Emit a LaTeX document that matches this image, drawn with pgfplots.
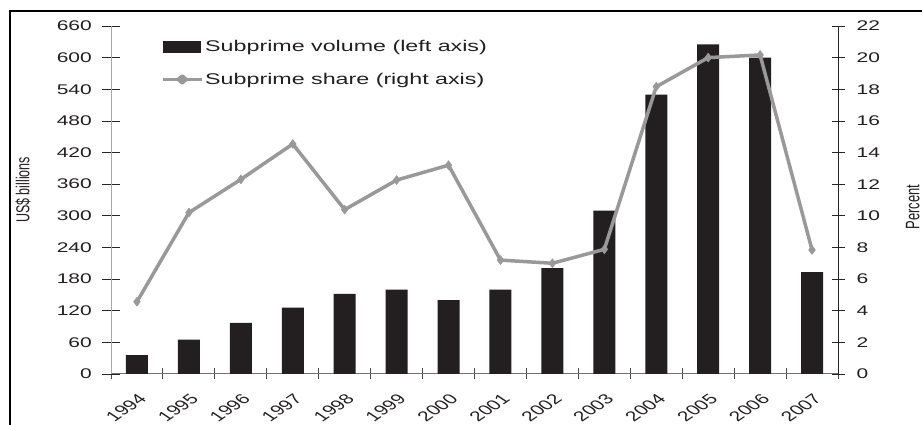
\documentclass[border=0pt]{standalone}
\usepackage{fontspec}
\setmainfont{Liberation Sans}
\usepackage{graphicx}
\usepackage{pgfplots}
\pgfplotsset{compat=1.18}
\definecolor{barcol}{HTML}{231F20}
\definecolor{linecol}{HTML}{999999}
\definecolor{txt}{HTML}{231F20}
% the source picture is stretched sideways, so is the text
\newcommand\w[1]{\scalebox{1.5}[1]{#1}}
\newcommand\tl[1]{\scalebox{1.5}[1]{\fontsize{14}{14}\selectfont #1}}
\newcommand\xl[1]{\scalebox{1.5}[1]{\rotatebox{45}{\fontsize{14}{14}\selectfont #1}}}

\pgfplotsset{
  common/.style={
    scale only axis, width=727pt, height=348pt,
    at={(111pt,51pt)}, anchor=south west,
    xmin=-0.5, xmax=13.5,
    tick label style={text=txt},
    tick align=center,
    clip=false,
  }
}

\begin{document}
\begin{tikzpicture}
\useasboundingbox (0,0) rectangle (922pt,425pt);
\draw[line width=2pt, black] (10pt,0pt) -- (10pt,414pt) -- (922pt,414pt);

\begin{axis}[common,
  ymin=0, ymax=660,
  axis y line*=left, axis x line*=bottom,
  ytick={0,60,...,660},
  yticklabels={\tl{0},\tl{60},\tl{120},\tl{180},\tl{240},\tl{300},\tl{360},\tl{420},
    \tl{480},\tl{540},\tl{600},\tl{660}},
  yticklabel style={anchor=east, inner sep=0pt, xshift=-10pt},
  major tick length=18pt,
  minor tick length=11pt,
  xtick={0,...,13},
  xticklabels={\xl{1994},\xl{1995},\xl{1996},\xl{1997},\xl{1998},\xl{1999},\xl{2000},
    \xl{2001},\xl{2002},\xl{2003},\xl{2004},\xl{2005},\xl{2006},\xl{2007}},
  major x tick style={draw=none},
  minor xtick={-0.5,0.5,...,13.5},
  minor x tick style={draw=black!70, line width=1pt},
  ytick style={draw=black!85, line width=0.8pt},
  xticklabel style={inner sep=0pt, anchor=north east, xshift=11pt, yshift=-10pt},
  y axis line style={draw=black!35, line width=1pt},
  x axis line style={draw=black!55, line width=1pt},
  ylabel={\scalebox{1}[1.5]{US\$ billions}},
  every axis y label/.style={at={(axis description cs:-0.121,0.529)}, rotate=90,
    anchor=center, font=\fontsize{12.5}{12.5}\selectfont, text=txt},
]
\addplot[ybar, bar width=22pt, fill=barcol, draw=none] coordinates {
  (0,36) (1,65) (2,97) (3,126) (4,152) (5,160) (6,140)
  (7,160) (8,201) (9,310) (10,530) (11,625) (12,600) (13,193)};
\end{axis}

\begin{axis}[common,
  ymin=0, ymax=22,
  axis y line*=right, axis x line=none,
  ytick={0,2,...,22},
  yticklabels={\tl{0},\tl{2},\tl{4},\tl{6},\tl{8},\tl{10},\tl{12},\tl{14},\tl{16},\tl{18},\tl{20},\tl{22}},
  yticklabel style={anchor=west, inner sep=0pt, xshift=12pt},
  major tick length=13pt,
  ytick style={draw=black!85, line width=0.8pt},
  y axis line style={draw=black!85, line width=1pt},
  ylabel={\scalebox{1}[1.5]{Percent}},
  every axis y label/.style={at={(axis description cs:1.103,0.48)}, rotate=90,
    anchor=center, font=\fontsize{13}{13}\selectfont, text=txt},
  legend cell align=left,
  legend style={at={(axis description cs:0.0688,0.965)}, anchor=north west,
    draw=none, fill=none, inner sep=0pt, row sep=16pt,
    font=\fontsize{15.5}{15.5}\selectfont, text=txt,
    /tikz/every even column/.append style={column sep=6pt}},
]
\addlegendimage{legend image code/.code={\fill[barcol] (0pt,-5.5pt) rectangle (37pt,5.5pt);}}
\addlegendentry{\w{Subprime volume (left axis)}}
\addplot[linecol, line width=3.5pt, line join=round,
  mark=diamond*, mark size=4.5pt, mark options={solid, fill=linecol, draw=linecol, line width=0.5pt},
  legend image code/.code={
    \draw[linecol, line width=3pt] (0pt,0pt) -- (39pt,0pt);
    \fill[linecol] (15.5pt,0pt) -- (19.5pt,3.5pt) -- (23.5pt,0pt) -- (19.5pt,-3.5pt) -- cycle;}]
  coordinates {
  (0,4.57) (1,10.2) (2,12.3) (3,14.54) (4,10.39) (5,12.26) (6,13.2)
  (7,7.2) (8,7.0) (9,7.88) (10,18.16) (11,20.0) (12,20.17) (13,7.84)};
\addlegendentry{\w{Subprime share (right axis)}}
\end{axis}
\end{tikzpicture}
\end{document}
